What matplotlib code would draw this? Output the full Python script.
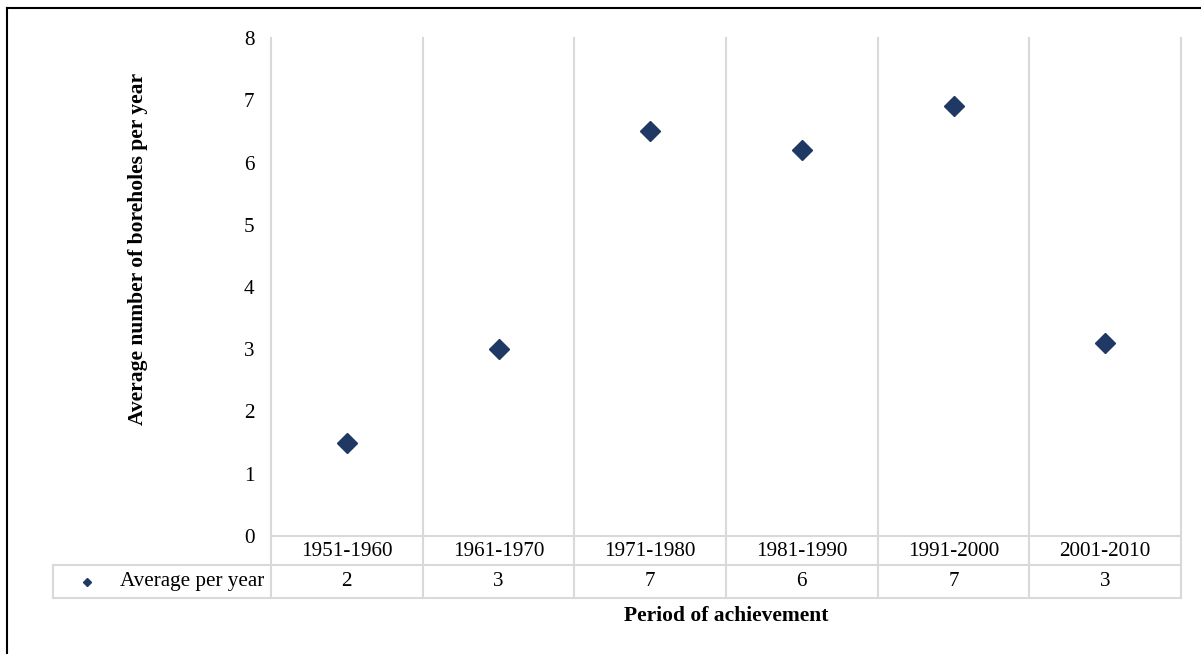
import matplotlib
matplotlib.use("Agg")
import matplotlib.pyplot as plt
from matplotlib.lines import Line2D
from matplotlib.transforms import blended_transform_factory

categories = ["1951-1960", "1961-1970", "1971-1980", "1981-1990", "1991-2000", "2001-2010"]
values = [1.5, 3.0, 6.5, 6.2, 6.9, 3.1]
table_values = ["2", "3", "7", "6", "7", "3"]
series_name = "Average per year"
y_ticks = [0, 1, 2, 3, 4, 5, 6, 7, 8]

W, H = 1201, 654
fig = plt.figure(figsize=(W / 100, H / 100), dpi=100)
plt.rcParams['font.family'] = ['Liberation Serif', 'DejaVu Serif']

def fx(px):
    return px / W

def fy(py):
    return 1 - py / H

fs = 15.2
fs_title = 15.5
left, right, top, bottom = 271, 1181, 38, 536
ax = fig.add_axes([fx(left), fy(bottom), fx(right) - fx(left), fy(top) - fy(bottom)])
n = len(categories)
ax.set_xlim(0, n)
ax.set_ylim(0, 8)
for s in ax.spines.values():
    s.set_visible(False)
ax.set_xticks([])
ax.set_yticks(y_ticks)
ax.set_yticklabels([str(t) for t in y_ticks], fontsize=fs)
ax.tick_params(axis='y', length=0, pad=12)

grid_c = '#D9D9D9'
tr = blended_transform_factory(ax.transData, fig.transFigure)
row1, row2 = 565, 598
# vertical gridlines (extend through table)
for i in range(n + 1):
    ax.add_line(Line2D([i, i], [fy(top), fy(row2)], transform=tr, color=grid_c, lw=1.5, clip_on=False, zorder=1))
# horizontal lines
ax.add_line(Line2D([0, n], [fy(bottom), fy(bottom)], transform=tr, color=grid_c, lw=1.5, clip_on=False))
tl = 53
fig.add_artist(Line2D([fx(tl), fx(right)], [fy(row1), fy(row1)], color=grid_c, lw=1.5))
fig.add_artist(Line2D([fx(tl), fx(right)], [fy(row2), fy(row2)], color=grid_c, lw=1.5))
fig.add_artist(Line2D([fx(tl), fx(tl)], [fy(row1), fy(row2)], color=grid_c, lw=1.5))

xs = [i + 0.5 for i in range(n)]
mcol = '#203864'
ax.plot(xs, values, linestyle='none', marker='D', markersize=10.5, color=mcol, zorder=3, clip_on=False)

# table text
for x, c, v in zip(xs, categories, table_values):
    ax.text(x, fy((bottom + row1) / 2 + 1), c, transform=tr, ha='center', va='center', fontsize=fs)
    ax.text(x, fy((row1 + row2) / 2), v, transform=tr, ha='center', va='center', fontsize=fs)
fig.text(fx(264), fy((row1 + row2) / 2), series_name, ha='right', va='center', fontsize=fs)
fig.add_artist(Line2D([fx(87)], [fy(582)], marker='D', markersize=4.5, color=mcol, linestyle='none'))

# axis titles
fig.text(fx(138), fy(249), "Average number of boreholes per year", rotation=90,
         ha='center', va='center', fontsize=fs_title, fontweight='bold')
fig.text(fx((left + right) / 2), fy(616), "Period of achievement", ha='center', va='center',
         fontsize=fs_title, fontweight='bold')

# outer border (top and left)
fig.add_artist(Line2D([fx(7), 1], [fy(8), fy(8)], color='black', lw=1.5))
fig.add_artist(Line2D([fx(7), fx(7)], [fy(8), 0], color='black', lw=1.5))

fig.savefig("out.png", dpi=100)
